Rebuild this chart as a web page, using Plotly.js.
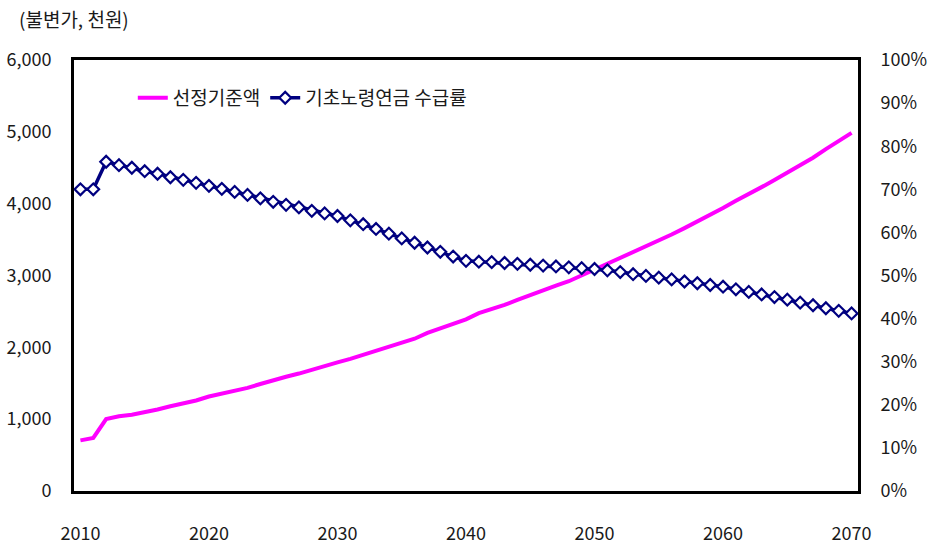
<!DOCTYPE html>
<html>
<head>
<meta charset="utf-8">
<script src="https://cdn.plot.ly/plotly-3.0.1.min.js"></script>
<style>
  html, body { margin: 0; padding: 0; background: #fff; }
  #chart { width: 930px; height: 544px; }
</style>
</head>
<body>
<div id="chart"></div>
<script>
// 연도 (2010 ~ 2070)
const years = [];
for (let y = 2010; y <= 2070; y++) years.push(y);

// 선정기준액 (불변가, 천원)
const thresholdAmount = [
  705, 738, 1002, 1040, 1062, 1095, 1135, 1180, 1220, 1260,
  1315, 1355, 1395, 1435, 1490, 1545, 1590, 1635, 1690, 1745,
  1790, 1840, 1895, 1950, 2010, 2060, 2120, 2200, 2260, 2320,
  2390, 2475, 2530, 2590, 2660, 2730, 2790, 2860, 2920, 3000,
  3090, 3170, 3250, 3330, 3400, 3480, 3570, 3660, 3750, 3850,
  3940, 4040, 4130, 4230, 4330, 4430, 4540, 4640, 4760, 4870,
  4985
];

// 기초노령연금 수급률 (%)
const recipientRate = [
  70.0, 70.0, 76.4, 75.6, 75.0, 74.2, 73.6, 72.8, 72.2, 71.5,
  70.8, 70.1, 69.4, 68.7, 67.9, 67.1, 66.4, 65.8, 65.0, 64.4,
  63.8, 62.8, 61.9, 60.8, 59.7, 58.6, 57.6, 56.5, 55.5, 54.4,
  53.4, 53.2, 53.1, 52.9, 52.7, 52.5, 52.3, 52.1, 51.9, 51.7,
  51.5, 51.2, 50.8, 50.3, 49.9, 49.5, 49.1, 48.6, 48.2, 47.8,
  47.4, 46.8, 46.2, 45.6, 45.0, 44.4, 43.7, 43.1, 42.4, 41.8,
  41.2
];

const xTicks = [2010, 2020, 2030, 2040, 2050, 2060, 2070];
const seriesNames = ['선정기준액', '기초노령연금 수급률'];
const unitLabel = '(불변가, 천원)';

const FONT = '"Noto Sans CJK KR", "Noto Sans", sans-serif';
const TEXT_COLOR = '#1a1a1a';

const traces = [
  {
    x: years,
    y: thresholdAmount,
    name: seriesNames[0],
    type: 'scatter',
    mode: 'lines',
    line: { color: '#FF00FF', width: 4 },
    yaxis: 'y'
  },
  {
    x: years,
    y: recipientRate,
    name: seriesNames[1],
    type: 'scatter',
    mode: 'lines+markers',
    line: { color: '#000080', width: 3.5 },
    marker: {
      symbol: 'diamond',
      size: 9,
      color: '#FFFFFF',
      line: { color: '#000080', width: 2.2 }
    },
    yaxis: 'y2'
  }
];

const layout = {
  width: 930,
  height: 544,
  margin: { l: 74, r: 72, t: 60, b: 53 },
  paper_bgcolor: '#FFFFFF',
  plot_bgcolor: '#FFFFFF',
  font: { family: FONT, size: 18, color: TEXT_COLOR },
  showlegend: true,
  legend: {
    orientation: 'h',
    x: 0.075,
    xanchor: 'left',
    y: 0.912,
    yanchor: 'middle',
    font: { family: FONT, size: 19, color: TEXT_COLOR },
    bgcolor: 'rgba(0,0,0,0)',
    itemwidth: 30,
    tracegroupgap: 0
  },
  xaxis: {
    range: [2009.5, 2070.5],
    tickvals: xTicks,
    ticktext: xTicks.map(String),
    ticks: '',
    showgrid: false,
    zeroline: false,
    showline: true,
    linecolor: '#000000',
    linewidth: 3,
    mirror: true,
    ticklabelstandoff: 24,
    tickfont: { family: FONT, size: 18, color: TEXT_COLOR }
  },
  yaxis: {
    range: [0, 6000],
    dtick: 1000,
    tickformat: ',d',
    ticks: '',
    showgrid: false,
    zeroline: false,
    showline: true,
    linecolor: '#000000',
    linewidth: 3,
    ticklabelstandoff: 16,
    tickfont: { family: FONT, size: 18, color: TEXT_COLOR }
  },
  yaxis2: {
    range: [0, 100],
    dtick: 10,
    ticksuffix: '%',
    overlaying: 'y',
    side: 'right',
    ticks: '',
    showgrid: false,
    zeroline: false,
    showline: true,
    linecolor: '#000000',
    linewidth: 3,
    ticklabelstandoff: 16,
    tickfont: { family: FONT, size: 18, color: TEXT_COLOR }
  },
  annotations: [
    {
      text: unitLabel,
      xref: 'paper',
      yref: 'paper',
      x: -0.073,
      y: 1.097,
      xanchor: 'left',
      yanchor: 'middle',
      showarrow: false,
      font: { family: FONT, size: 19, color: TEXT_COLOR }
    }
  ]
};

Plotly.newPlot('chart', traces, layout, { staticPlot: true, displayModeBar: false });
</script>
</body>
</html>
